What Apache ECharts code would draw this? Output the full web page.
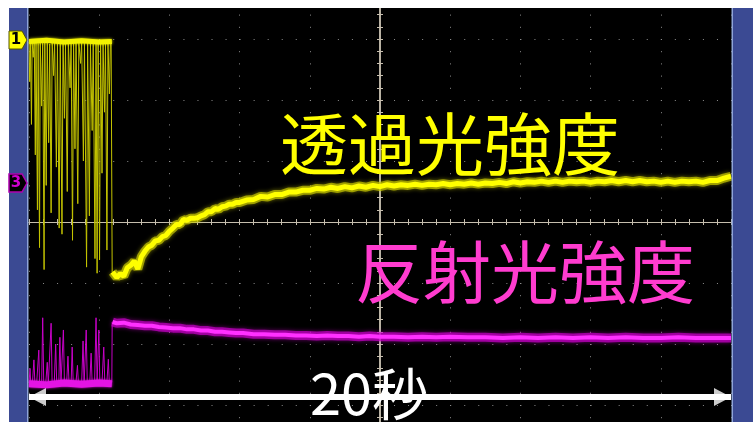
<!DOCTYPE html>
<html>
<head>
<meta charset="utf-8">
<style>
  html, body { margin: 0; padding: 0; background: #fff; }
  #chart { width: 753px; height: 422px; }
</style>
<script src="https://cdn.jsdelivr.net/npm/echarts@6/dist/echarts.min.js"></script>
</head>
<body>
<div id="chart"></div>
<script>
// time in seconds (2 s/div, trigger at centre), level in divisions
var timeRange = [-10, 10]
var levelRange = [-4, 4]

// ch1 (transmitted) : noisy burst before the step
var ch1Burst = [
  [-10.00, 2.95], [-9.98, 2.30], [-9.96, 2.97], [-9.93, 1.60], [-9.91, 2.94], [-9.88, 2.70],
  [-9.85, 2.98], [-9.82, 1.10], [-9.80, 2.96], [-9.76, 0.20], [-9.74, 2.93], [-9.70, -0.42],
  [-9.68, 2.97], [-9.64, 1.90], [-9.61, 2.95], [-9.57, -0.78], [-9.55, 2.96], [-9.51, 0.60],
  [-9.48, 2.98], [-9.44, 1.30], [-9.41, 2.92], [-9.37, 0.15], [-9.34, 2.96], [-9.30, 2.40],
  [-9.27, 2.97], [-9.22, 0.90], [-9.19, 2.94], [-9.14, -0.10], [-9.11, 2.96], [-9.06, -0.20],
  [-9.03, 2.98], [-8.99, 1.70], [-8.96, 2.93], [-8.91, 0.50], [-8.88, 2.97], [-8.83, 2.20],
  [-8.80, 2.95], [-8.76, -0.30], [-8.73, 2.96], [-8.69, 1.20], [-8.66, 2.98], [-8.61, 0.30],
  [-8.58, 2.94], [-8.53, 2.60], [-8.50, 2.97], [-8.45, 1.00], [-8.42, 2.95], [-8.36, -0.74],
  [-8.33, 2.96], [-8.28, 0.10], [-8.25, 2.93], [-8.20, 1.50], [-8.17, 2.98], [-8.12, -0.60],
  [-8.09, 2.95], [-8.06, -0.84], [-8.03, 2.96], [-7.99, -0.62], [-7.96, 2.97], [-7.92, 0.80],
  [-7.89, 2.94], [-7.85, 1.80], [-7.82, 2.96], [-7.78, -0.46], [-7.75, 2.95], [-7.71, 2.10],
  [-7.68, 2.97], [-7.66, 2.93], [-7.64, 2.96], [-7.63, -0.82]
]
var ch1BurstTop = [[-10, 2.96], [-9.5, 2.98], [-9, 2.95], [-8.5, 2.97], [-8, 2.95], [-7.64, 2.96]]

// ch1 after the step
var ch1Trace = [
  [-7.62, -0.82], [-7.5, -0.91], [-7.4, -0.85], [-7.3, -0.89], [-7.2, -0.75], [-7.1, -0.71],
  [-7.0, -0.64], [-6.9, -0.77], [-6.8, -0.57], [-6.7, -0.48], [-6.6, -0.41], [-6.5, -0.38],
  [-6.4, -0.31], [-6.3, -0.30], [-6.2, -0.24], [-6.1, -0.22], [-6.0, -0.15], [-5.9, -0.10],
  [-5.8, -0.04], [-5.7, -0.04], [-5.6, 0.04], [-5.5, 0.03], [-5.4, 0.06], [-5.3, 0.06],
  [-5.2, 0.07], [-5.1, 0.10], [-5.0, 0.12], [-4.9, 0.17], [-4.8, 0.17], [-4.7, 0.22],
  [-4.6, 0.21], [-4.5, 0.25], [-4.4, 0.26], [-4.3, 0.29], [-4.2, 0.29], [-4.1, 0.32],
  [-4.0, 0.32], [-3.8, 0.36], [-3.6, 0.37], [-3.4, 0.42], [-3.2, 0.41], [-3.0, 0.45],
  [-2.8, 0.45], [-2.6, 0.49], [-2.4, 0.49], [-2.2, 0.52], [-2.0, 0.52], [-1.8, 0.55],
  [-1.6, 0.54], [-1.4, 0.57], [-1.2, 0.55], [-1.0, 0.58], [-0.8, 0.56], [-0.6, 0.59],
  [-0.4, 0.57], [-0.2, 0.60], [0, 0.58], [0.2, 0.61], [0.4, 0.59], [0.6, 0.61],
  [0.8, 0.60], [1.0, 0.62], [1.2, 0.60], [1.4, 0.62], [1.6, 0.61], [1.8, 0.63],
  [2.0, 0.61], [2.2, 0.63], [2.4, 0.62], [2.6, 0.64], [2.8, 0.62], [3.0, 0.64],
  [3.2, 0.63], [3.4, 0.65], [3.6, 0.63], [3.8, 0.66], [4.0, 0.64], [4.2, 0.66],
  [4.4, 0.65], [4.6, 0.67], [4.8, 0.65], [5.0, 0.67], [5.2, 0.65], [5.4, 0.67],
  [5.6, 0.66], [5.8, 0.67], [6.0, 0.65], [6.2, 0.67], [6.4, 0.66], [6.6, 0.68],
  [6.8, 0.66], [7.0, 0.68], [7.2, 0.66], [7.4, 0.68], [7.6, 0.66], [7.8, 0.67],
  [8.0, 0.65], [8.2, 0.67], [8.4, 0.65], [8.6, 0.67], [8.8, 0.66], [9.0, 0.67],
  [9.2, 0.65], [9.4, 0.68], [9.6, 0.68], [9.8, 0.72], [10.0, 0.75]
]

// ch3 (reflected) : burst before the step
var ch3Burst = [
  [-10.00, -2.64], [-9.97, -2.40], [-9.95, -2.66], [-9.90, -2.62], [-9.86, -2.26], [-9.83, -2.67],
  [-9.78, -2.63], [-9.72, -2.10], [-9.70, -2.65], [-9.64, -2.68], [-9.61, -1.57], [-9.58, -2.64],
  [-9.52, -2.62], [-9.48, -2.30], [-9.45, -2.66], [-9.40, -2.63], [-9.37, -1.66], [-9.34, -2.67],
  [-9.28, -2.64], [-9.24, -2.00], [-9.21, -2.65], [-9.15, -2.62], [-9.12, -1.89], [-9.09, -2.66],
  [-9.02, -1.77], [-8.99, -2.64], [-8.93, -2.67], [-8.89, -2.20], [-8.86, -2.63], [-8.80, -2.65],
  [-8.77, -2.05], [-8.74, -2.66], [-8.66, -2.62], [-8.62, -2.35], [-8.59, -2.66], [-8.50, -2.64],
  [-8.46, -1.95], [-8.43, -2.67], [-8.37, -1.77], [-8.34, -2.63], [-8.27, -2.65], [-8.23, -2.15],
  [-8.20, -2.66], [-8.13, -2.62], [-8.09, -1.57], [-8.06, -2.64], [-8.01, -1.77], [-7.98, -2.67],
  [-7.92, -2.63], [-7.87, -2.05], [-7.84, -2.65], [-7.78, -2.62], [-7.74, -2.25], [-7.71, -2.66],
  [-7.66, -2.64], [-7.64, -2.63], [-7.63, -1.64]
]
var ch3BurstBase = [[-10, -2.65], [-9.5, -2.67], [-9, -2.64], [-8.5, -2.66], [-8, -2.64], [-7.64, -2.65]]

// ch3 after the step
var ch3Trace = [
  [-7.62, -1.64], [-7.5, -1.66], [-7.3, -1.65], [-7.1, -1.68], [-6.9, -1.69], [-6.7, -1.70],
  [-6.5, -1.70], [-6.3, -1.72], [-6.1, -1.73], [-5.9, -1.74], [-5.7, -1.74], [-5.5, -1.76],
  [-5.3, -1.76], [-5.1, -1.78], [-4.9, -1.78], [-4.7, -1.80], [-4.5, -1.80], [-4.3, -1.81],
  [-4.1, -1.82], [-3.9, -1.82], [-3.6, -1.84], [-3.3, -1.84], [-3.0, -1.85], [-2.7, -1.85],
  [-2.4, -1.86], [-2.1, -1.86], [-1.8, -1.87], [-1.5, -1.86], [-1.2, -1.87], [-0.9, -1.87],
  [-0.6, -1.88], [-0.3, -1.87], [0, -1.88], [0.4, -1.88], [0.8, -1.89], [1.2, -1.88],
  [1.6, -1.89], [2.0, -1.88], [2.5, -1.89], [3.0, -1.89], [3.5, -1.90], [4.0, -1.89],
  [4.5, -1.90], [5.0, -1.89], [5.5, -1.90], [6.0, -1.89], [6.5, -1.90], [7.0, -1.89],
  [7.5, -1.90], [8.0, -1.90], [8.5, -1.89], [9.0, -1.90], [9.5, -1.90], [10.0, -1.90]
]

// 20 s span arrow
var spanLevel = -2.87
var labels = ['透過光強度', '反射光強度', '20秒']

var centreColor = '#c6beae'
var dotColor = '#8c8c8c'
var cjk = '"Noto Sans CJK JP", sans-serif'

function timeAxis(position, main) {
  return {
    type: 'value', min: timeRange[0], max: timeRange[1], interval: 2, position: position,
    axisLine: { show: true, onZero: true, onZeroAxisIndex: 0, lineStyle: { color: centreColor, width: 1 } },
    axisTick: { show: true, length: 3, lineStyle: { color: centreColor } },
    minorTick: { show: true, splitNumber: 5, length: 3, lineStyle: { color: centreColor } },
    axisLabel: { show: false },
    splitLine: { show: main, lineStyle: { color: dotColor, width: 1, type: [1, 11.2] } }
  }
}

function levelAxis(position, main) {
  return {
    type: 'value', min: levelRange[0], max: levelRange[1], interval: 1, position: position,
    axisLine: { show: true, onZero: true, onZeroAxisIndex: 0, lineStyle: { color: centreColor, width: 1.5 } },
    axisTick: { show: true, length: 3, lineStyle: { color: centreColor } },
    minorTick: { show: true, splitNumber: 5, length: 3, lineStyle: { color: centreColor } },
    axisLabel: { show: false },
    splitLine: { show: main, lineStyle: { color: dotColor, width: 1, type: [1, 13.04] } }
  }
}

function trace(data, color, width, z, blur) {
  return {
    type: 'line', data: data, showSymbol: false, symbol: 'none', z: z, silent: true,
    lineStyle: { color: color, width: width, shadowBlur: blur || 0, shadowColor: color }
  }
}

function arrowHead(end, path, offset) {
  return {
    type: 'scatter', data: [[end, spanLevel]], symbol: path, symbolSize: [17, 18],
    symbolOffset: [offset, 0], clip: false, silent: true, z: 9,
    itemStyle: { color: '#ffffff' }
  }
}

var chart = echarts.init(document.getElementById('chart'), null, { renderer: 'canvas' })

chart.setOption({
  backgroundColor: '#000000',
  animation: false,
  grid: { left: 29, right: 22, top: -22, bottom: -44, containLabel: false, outerBoundsMode: 'none' },
  xAxis: [timeAxis('bottom', true), timeAxis('top', false)],
  yAxis: [levelAxis('left', true), levelAxis('right', false)],
  series: [
    trace(ch1Burst, '#c4c400', 1, 3),
    trace(ch1BurstTop, '#f2f200', 5, 4, 3),
    trace(ch1Trace, 'rgba(200,200,0,0.7)', 9, 4, 4),
    trace(ch1Trace, '#ffff00', 5, 5),
    trace(ch3Burst, '#c800c8', 1, 3),
    trace(ch3BurstBase, '#e414e4', 7, 4, 3),
    trace(ch3Trace, 'rgba(200,0,200,0.7)', 9, 4, 4),
    trace(ch3Trace, '#ff30ff', 4, 5),
    // 20 s span arrow
    trace([[timeRange[0], spanLevel], [timeRange[1], spanLevel]], '#ffffff', 6, 8),
    arrowHead(timeRange[0], 'path://M0,5L10,0L10,10Z', 8.5),
    arrowHead(timeRange[1], 'path://M10,5L0,0L0,10Z', -8.5)
  ],
  graphic: {
    elements: [
      // slide background round the scope screen
      { type: 'rect', silent: true, z: 100, shape: { x: 0, y: 0, width: 753, height: 8 }, style: { fill: '#ffffff' } },
      { type: 'rect', silent: true, z: 100, shape: { x: 0, y: 0, width: 9, height: 422 }, style: { fill: '#ffffff' } },
      { type: 'rect', silent: true, z: 100, shape: { x: 9, y: 8, width: 19, height: 414 }, style: { fill: '#3b4a93' } },
      { type: 'rect', silent: true, z: 100, shape: { x: 27, y: 8, width: 1.5, height: 414 }, style: { fill: '#8ea4d8' } },
      { type: 'rect', silent: true, z: 100, shape: { x: 732, y: 8, width: 21, height: 414 }, style: { fill: '#3b4a93' } },
      { type: 'rect', silent: true, z: 100, shape: { x: 731.5, y: 8, width: 1.5, height: 414 }, style: { fill: '#8ea4d8' } },
      // channel markers
      { type: 'polygon', silent: true, z: 101, shape: { points: [[9, 31], [22, 31], [27, 40], [22, 49], [9, 49]] },
        style: { fill: '#ffff00', stroke: '#555500', lineWidth: 1 } },
      { type: 'text', silent: true, z: 102, x: 16, y: 40,
        style: { text: '1', fill: '#000', font: 'bold 15px "DejaVu Sans", sans-serif', align: 'center', verticalAlign: 'middle' } },
      { type: 'polygon', silent: true, z: 101, shape: { points: [[9, 174], [22, 174], [27, 183], [22, 192], [9, 192]] },
        style: { fill: '#000000', stroke: '#b000b0', lineWidth: 1.5 } },
      { type: 'text', silent: true, z: 102, x: 16, y: 183,
        style: { text: '3', fill: '#d000d0', font: 'bold 15px "DejaVu Sans", sans-serif', align: 'center', verticalAlign: 'middle' } },
      // labels
      { type: 'text', silent: true, z: 110, x: 450, y: 144,
        style: { text: labels[0], fill: '#ffff00', font: '68px ' + cjk, align: 'center', verticalAlign: 'middle' } },
      { type: 'text', silent: true, z: 110, x: 525, y: 272,
        style: { text: labels[1], fill: '#ff3ccf', font: '68px ' + cjk, align: 'center', verticalAlign: 'middle' } },
      { type: 'text', silent: true, z: 110, x: 369, y: 394,
        style: { text: labels[2], fill: '#ffffff', font: '56px ' + cjk, align: 'center', verticalAlign: 'middle' } }
    ]
  }
})
</script>
</body>
</html>
